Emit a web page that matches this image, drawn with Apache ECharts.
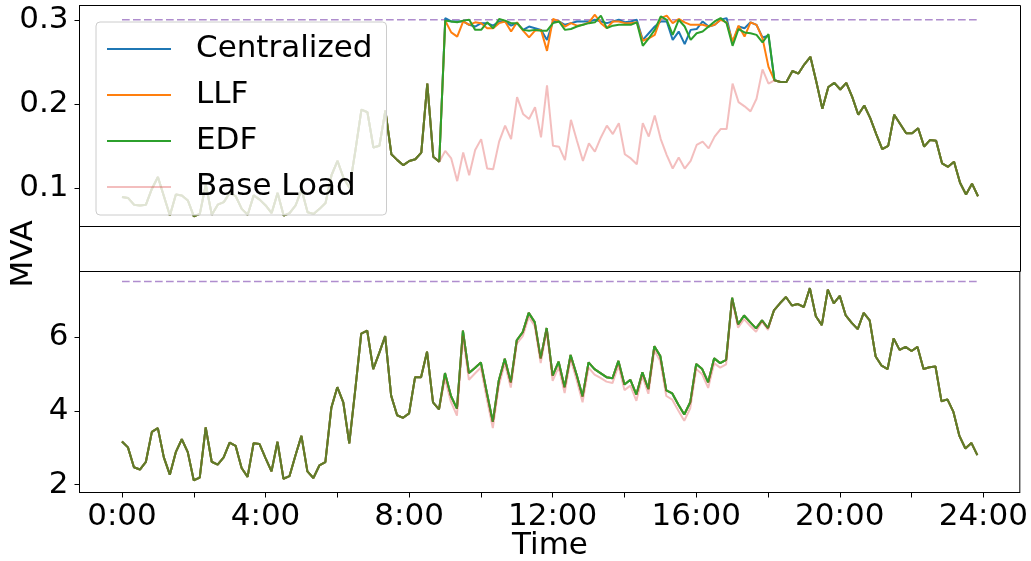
<!DOCTYPE html>
<html>
<head>
<meta charset="utf-8">
<script src="https://cdn.jsdelivr.net/npm/echarts@6/dist/echarts.min.js"></script>
<style>
  html, body { margin: 0; padding: 0; background: #ffffff; }
  #chart { width: 1031px; height: 561px; }
</style>
</head>
<body>
<div id="chart"></div>
<script>
// Sample times in minutes after midnight, one sample every 10 minutes (0:00 ... 23:50)
const sampleMinutes = [];
for (let m = 0; m < 1440; m += 10) sampleMinutes.push(m);

// Tick positions on the time axis (minutes) and the labelled subset
const timeTicks = [0, 120, 240, 360, 480, 600, 720, 840, 960, 1080, 1200, 1320, 1440];
const timeLabels = [0, 240, 480, 720, 960, 1200, 1440];
const topTicks = [0.1, 0.2, 0.3];
const bottomTicks = [2, 4, 6];

// Capacity limits (dashed lines)
const topLimit = 0.3;
const bottomLimit = 7.5;

// Upper panel: transformer base load, MVA (all 144 samples)
const topBaseLoad = [
  0.089, 0.088, 0.080, 0.079, 0.080, 0.099, 0.113, 0.090, 0.067, 0.092, 0.091, 0.085,
  0.066, 0.069, 0.104, 0.068, 0.080, 0.083, 0.094, 0.090, 0.075, 0.068, 0.091, 0.086,
  0.079, 0.070, 0.094, 0.067, 0.070, 0.079, 0.098, 0.071, 0.069, 0.075, 0.082, 0.115,
  0.132, 0.112, 0.100, 0.145, 0.193, 0.190, 0.148, 0.150, 0.192, 0.140, 0.133, 0.127,
  0.132, 0.134, 0.142, 0.224, 0.137, 0.131, 0.144, 0.135, 0.108, 0.142, 0.115, 0.145,
  0.158, 0.123, 0.122, 0.155, 0.174, 0.158, 0.208, 0.188, 0.182, 0.196, 0.160, 0.222,
  0.150, 0.149, 0.133, 0.181, 0.156, 0.132, 0.153, 0.143, 0.160, 0.174, 0.164, 0.177,
  0.140, 0.135, 0.128, 0.177, 0.161, 0.186, 0.158, 0.139, 0.123, 0.136, 0.123, 0.132,
  0.151, 0.155, 0.147, 0.161, 0.170, 0.170, 0.224, 0.202, 0.197, 0.191, 0.206, 0.241,
  0.224, 0.228, 0.226, 0.226, 0.239, 0.236, 0.247, 0.256, 0.226, 0.194, 0.220, 0.225,
  0.217, 0.225, 0.208, 0.187, 0.198, 0.183, 0.164, 0.146, 0.150, 0.187, 0.176, 0.165,
  0.165, 0.171, 0.149, 0.157, 0.156, 0.129, 0.125, 0.131, 0.106, 0.092, 0.105, 0.090
];

// Charging window: samples 54 (9:00) to 108 (18:00); outside it every strategy equals the base load
const windowStart = 54;
const windowEnd = 109;

// Upper panel, charging window: transformer loading per scheduling strategy, MVA
const topCentralizedWindow = [
  0.302, 0.298, 0.298, 0.298, 0.294, 0.292, 0.296, 0.296, 0.293, 0.298, 0.298, 0.293,
  0.296, 0.288, 0.292, 0.290, 0.288, 0.276, 0.298, 0.298, 0.294, 0.296, 0.298, 0.298,
  0.298, 0.300, 0.298, 0.296, 0.298, 0.300, 0.297, 0.298, 0.300, 0.276, 0.284, 0.292,
  0.298, 0.298, 0.276, 0.286, 0.271, 0.288, 0.289, 0.298, 0.292, 0.294, 0.300, 0.302,
  0.272, 0.292, 0.290, 0.297, 0.294, 0.279, 0.281
];
const topLLFWindow = [
  0.299, 0.285, 0.280, 0.298, 0.294, 0.297, 0.296, 0.290, 0.290, 0.296, 0.298, 0.286,
  0.297, 0.287, 0.279, 0.287, 0.288, 0.263, 0.301, 0.298, 0.292, 0.296, 0.293, 0.294,
  0.297, 0.306, 0.296, 0.290, 0.298, 0.298, 0.296, 0.296, 0.297, 0.275, 0.278, 0.282,
  0.302, 0.305, 0.296, 0.301, 0.297, 0.294, 0.294, 0.294, 0.292, 0.294, 0.300, 0.297,
  0.274, 0.293, 0.280, 0.297, 0.294, 0.278, 0.244
];
const topEDFWindow = [
  0.299, 0.298, 0.297, 0.299, 0.300, 0.288, 0.288, 0.297, 0.290, 0.301, 0.299, 0.296,
  0.296, 0.288, 0.287, 0.288, 0.287, 0.287, 0.296, 0.298, 0.288, 0.289, 0.292, 0.294,
  0.296, 0.297, 0.305, 0.290, 0.293, 0.294, 0.294, 0.294, 0.297, 0.269, 0.278, 0.288,
  0.304, 0.300, 0.282, 0.300, 0.292, 0.276, 0.284, 0.286, 0.292, 0.298, 0.302, 0.296,
  0.269, 0.289, 0.285, 0.284, 0.282, 0.273, 0.283
];

// Lower panel: feeder base load, MVA (all 144 samples)
const bottomBaseLoad = [
  3.17, 3.01, 2.47, 2.41, 2.62, 3.43, 3.53, 2.74, 2.27, 2.88, 3.23, 2.88,
  2.12, 2.19, 3.55, 2.62, 2.54, 2.74, 3.14, 3.05, 2.45, 2.21, 3.12, 3.10,
  2.72, 2.36, 3.16, 2.16, 2.23, 2.79, 3.32, 2.36, 2.18, 2.52, 2.61, 4.08,
  4.64, 4.23, 3.12, 4.57, 6.09, 6.17, 5.13, 5.56, 6.02, 4.41, 3.88, 3.81,
  3.93, 4.91, 4.91, 5.60, 4.23, 4.04, 4.87, 4.24, 3.87, 6.02, 4.84, 5.01,
  5.17, 4.32, 3.53, 4.68, 5.29, 4.63, 5.82, 6.02, 6.54, 6.30, 5.29, 6.17,
  4.81, 5.19, 4.48, 5.40, 4.84, 4.23, 5.17, 4.98, 4.89, 4.79, 4.75, 5.23,
  4.56, 4.68, 4.27, 4.94, 4.46, 5.64, 5.34, 4.40, 4.30, 4.01, 3.73, 4.07,
  5.13, 4.99, 4.62, 5.29, 5.17, 5.26, 7.01, 6.25, 6.48, 6.30, 6.14, 6.42,
  6.19, 6.72, 6.91, 7.08, 6.85, 6.89, 6.81, 7.32, 6.56, 6.32, 7.28, 6.91,
  7.11, 6.58, 6.38, 6.21, 6.65, 6.45, 5.47, 5.22, 5.13, 5.96, 5.65, 5.73,
  5.62, 5.73, 5.13, 5.18, 5.20, 4.26, 4.31, 3.97, 3.32, 2.98, 3.13, 2.80
];

// Lower panel, charging window: feeder load including EV charging (same for all strategies), MVA
const bottomWithEVWindow = [
  5.02, 4.40, 4.06, 6.17, 5.02, 5.16, 5.31, 4.49, 3.70, 4.82, 5.41, 4.77,
  5.91, 6.13, 6.65, 6.40, 5.42, 6.24, 4.95, 5.33, 4.64, 5.51, 4.98, 4.39,
  5.31, 5.13, 5.02, 4.91, 4.88, 5.35, 4.71, 4.84, 4.44, 5.04, 4.59, 5.75,
  5.48, 4.55, 4.47, 4.17, 3.90, 4.23, 5.27, 5.13, 4.77, 5.42, 5.29, 5.38,
  7.06, 6.34, 6.58, 6.40, 6.23, 6.45, 6.24
];

// Full-day profile: base load outside the window, strategy values inside it
function withWindow(base, windowValues) {
  return base.slice(0, windowStart).concat(windowValues, base.slice(windowEnd));
}
function pairs(values) {
  return values.map((v, i) => [sampleMinutes[i], v]);
}

const colors = {
  centralized: '#1f77b4',
  llf: '#ff7f0e',
  edf: '#2ca02c',
  base: '#d62728',
  limit: '#9467bd'
};
const FONT = 'DejaVu Sans';
const FONT_SIZE = 31;

// Axis geometry (pixels)
const plotLeft = 79.5;
const plotWidth = 941;
const topPanel = { top: 5.5, height: 221 };
const gapPanel = { top: 226.5, height: 45 };
const bottomPanel = { top: 271.5, height: 221 };

function lineSeries(name, values, color, xi, yi, extra) {
  return Object.assign({
    name: name,
    type: 'line',
    xAxisIndex: xi,
    yAxisIndex: yi,
    data: pairs(values),
    showSymbol: false,
    symbol: 'none',
    silent: true,
    lineStyle: { color: color, width: 2 },
    itemStyle: { color: color }
  }, extra || {});
}

function limitSeries(value, xi, yi) {
  return {
    type: 'line',
    xAxisIndex: xi,
    yAxisIndex: yi,
    data: [[sampleMinutes[0], value], [sampleMinutes[sampleMinutes.length - 1], value]],
    symbol: 'none',
    silent: true,
    lineStyle: { color: colors.limit, width: 1.6, opacity: 0.75, type: [7.7, 3.3] },
    z: 1
  };
}

const baseOpacity = 0.3;

const series = [
  limitSeries(topLimit, 0, 0),
  lineSeries('Centralized', withWindow(topBaseLoad, topCentralizedWindow), colors.centralized, 0, 0),
  lineSeries('LLF', withWindow(topBaseLoad, topLLFWindow), colors.llf, 0, 0),
  lineSeries('EDF', withWindow(topBaseLoad, topEDFWindow), colors.edf, 0, 0),
  lineSeries('Base Load', topBaseLoad, colors.base, 0, 0,
    { lineStyle: { color: colors.base, width: 2, opacity: baseOpacity } }),

  limitSeries(bottomLimit, 2, 2),
  lineSeries('Centralized', withWindow(bottomBaseLoad, bottomWithEVWindow), colors.centralized, 2, 2),
  lineSeries('LLF', withWindow(bottomBaseLoad, bottomWithEVWindow), colors.llf, 2, 2),
  lineSeries('EDF', withWindow(bottomBaseLoad, bottomWithEVWindow), colors.edf, 2, 2),
  lineSeries('Base Load', bottomBaseLoad, colors.base, 2, 2,
    { lineStyle: { color: colors.base, width: 2, opacity: baseOpacity } })
];

const tickLabelStyle = { fontFamily: FONT, fontSize: FONT_SIZE, color: '#000000' };

function yAxisFor(gridIndex, min, max, ticks, digits) {
  return {
    type: 'value',
    gridIndex: gridIndex,
    min: min,
    max: max,
    splitLine: { show: false },
    axisLine: { show: true, onZero: false, lineStyle: { color: '#000', width: 1 } },
    axisTick: { show: true, inside: false, length: 5, lineStyle: { color: '#000', width: 1 }, customValues: ticks },
    axisLabel: Object.assign({
      margin: 11,
      padding: [5, 0, 0, 0],
      customValues: ticks,
      formatter: v => v.toFixed(digits)
    }, tickLabelStyle)
  };
}

// Top panel: 0.3 sits 14 px below the upper frame; lower panel: 2 and 6 at their tick marks
const topRange = [0.0540, 0.3170];
const bottomRange = [1.788, 7.771];

const option = {
  animation: false,
  backgroundColor: '#ffffff',
  textStyle: { fontFamily: FONT },
  grid: [
    Object.assign({ left: plotLeft, width: plotWidth, show: true, borderColor: '#000', borderWidth: 1, backgroundColor: 'transparent' }, topPanel),
    Object.assign({ left: plotLeft, width: plotWidth, show: true, borderColor: '#000', borderWidth: 1, backgroundColor: 'transparent' }, gapPanel),
    Object.assign({ left: plotLeft, width: plotWidth, show: true, borderColor: '#000', borderWidth: 1, backgroundColor: 'transparent' }, bottomPanel)
  ],
  xAxis: [
    { type: 'value', gridIndex: 0, min: -71, max: 1501, show: false },
    { type: 'value', gridIndex: 1, min: 0, max: 1, show: false },
    {
      type: 'value', gridIndex: 2, min: -71, max: 1501,
      splitLine: { show: false },
      axisLine: { show: true, onZero: false, lineStyle: { color: '#000', width: 1 } },
      axisTick: { show: true, inside: false, length: 5, lineStyle: { color: '#000', width: 1 }, customValues: timeTicks },
      axisLabel: Object.assign({
        margin: 9,
        customValues: timeLabels,
        formatter: v => (v / 60) + ':00'
      }, tickLabelStyle)
    }
  ],
  yAxis: [
    yAxisFor(0, topRange[0], topRange[1], topTicks, 1),
    { type: 'value', gridIndex: 1, min: 0, max: 1, show: false },
    yAxisFor(2, bottomRange[0], bottomRange[1], bottomTicks, 0)
  ],
  legend: {
    orient: 'vertical',
    left: 96,
    top: 22,
    icon: 'rect',
    itemWidth: 64,
    itemHeight: 2,
    itemGap: 12,
    padding: [10, 14, 11, 11],
    backgroundColor: 'rgba(255,255,255,0.8)',
    borderColor: '#cccccc',
    borderWidth: 1,
    borderRadius: 4,
    selectedMode: false,
    textStyle: { fontFamily: FONT, fontSize: FONT_SIZE, color: '#000', lineHeight: 34, padding: [0, 0, 0, 20] },
    data: [
      { name: 'Centralized', itemStyle: { color: colors.centralized } },
      { name: 'LLF', itemStyle: { color: colors.llf } },
      { name: 'EDF', itemStyle: { color: colors.edf } },
      { name: 'Base Load', itemStyle: { color: 'rgba(214,39,40,0.3)' } }
    ]
  },
  graphic: [
    {
      type: 'text', x: 550, y: 546,
      style: { text: 'Time', fontFamily: FONT, fontSize: FONT_SIZE, fill: '#000', align: 'center', verticalAlign: 'middle' }
    },
    {
      type: 'text', x: 24, y: 254, rotation: Math.PI / 2,
      style: { text: 'MVA', fontFamily: FONT, fontSize: FONT_SIZE, fill: '#000', align: 'center', verticalAlign: 'middle' }
    }
  ],
  series: series
};

const chart = echarts.init(document.getElementById('chart'), null, { renderer: 'canvas' });
chart.setOption(option);
</script>
</body>
</html>
